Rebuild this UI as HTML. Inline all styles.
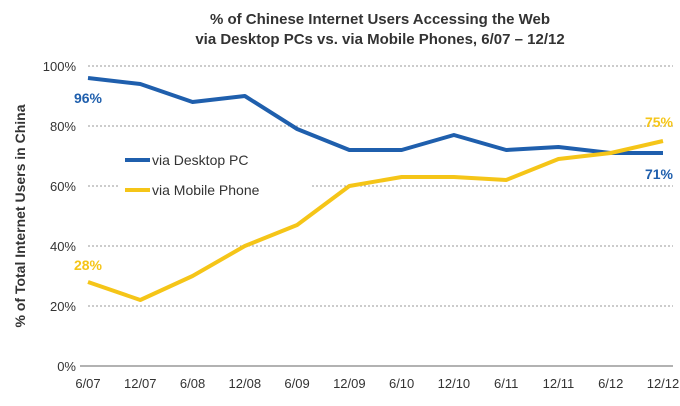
<!DOCTYPE html>
<html><head><meta charset="utf-8"><style>
body{margin:0;background:#fff;font-family:"Liberation Sans",Arial,sans-serif}
svg text{font-family:"Liberation Sans",Arial,sans-serif}
</style></head><body>
<svg id="chart" width="680" height="401" xmlns="http://www.w3.org/2000/svg">
<text x="380" y="24" text-anchor="middle" font-size="15" font-weight="bold" fill="#333">% of Chinese Internet Users Accessing the Web</text>
<text x="380" y="44" text-anchor="middle" font-size="15" font-weight="bold" fill="#333">via Desktop PCs vs. via Mobile Phones, 6/07 – 12/12</text>
<text transform="translate(25,216) rotate(-90)" text-anchor="middle" font-size="14" font-weight="bold" fill="#333">% of Total Internet Users in China</text>
<g id="grid"></g>
<rect x="118" y="145" width="192" height="57" fill="#fff"/>
<g id="axes"></g><g id="series"></g><g id="labels"></g>
<g>
<line x1="125" y1="160" x2="150" y2="160" stroke="#1f5fad" stroke-width="4"/>
<text x="152" y="165" font-size="14" fill="#333">via Desktop PC</text>
<line x1="125" y1="190" x2="150" y2="190" stroke="#f5c518" stroke-width="4"/>
<text x="152" y="195" font-size="14" fill="#333">via Mobile Phone</text>
</g>
</svg>
<script>
const categories=["6/07","12/07","6/08","12/08","6/09","12/09","6/10","12/10","6/11","12/11","6/12","12/12"];
const desktopValues=[96,94,88,90,79,72,72,77,72,73,71,71];
const mobileValues=[28,22,30,40,47,60,63,63,62,69,71,75];
const yTicks=[0,20,40,60,80,100];
const NS="http://www.w3.org/2000/svg";
const x0=88,x1=663,y0=366,y1=66;
const xs=i=>x0+i*(x1-x0)/(categories.length-1);
const ys=v=>y0-(v/100)*(y0-y1);
function mk(t,a,p){const e=document.createElementNS(NS,t);for(const k in a)e.setAttribute(k,a[k]);p.appendChild(e);return e;}
const grid=document.getElementById('grid'),axes=document.getElementById('axes'),ser=document.getElementById('series'),lab=document.getElementById('labels');
yTicks.forEach(v=>{
 if(v>0){const g=mk('line',{x1:x0,x2:x1+10,y1:ys(v),y2:ys(v),stroke:'#999','stroke-dasharray':'2,2'},grid);
 
 }
 const t=mk('text',{x:76,y:ys(v)+5,'text-anchor':'end','font-size':13,fill:'#333'},axes);t.textContent=v+'%';
 
 
});
const ax=mk('line',{x1:x0-8,x2:x1+10,y1:y0,y2:y0,stroke:'#666'},axes);


categories.forEach((c,i)=>{const t=mk('text',{x:xs(i),y:388,'text-anchor':'middle','font-size':13,fill:'#333'},axes);t.textContent=c;
 
 });
function line(vals,col,name){const p=mk('polyline',{points:vals.map((v,i)=>xs(i)+','+ys(v)).join(' '),fill:'none',stroke:col,'stroke-width':4,'stroke-linejoin':'round'},ser);
 
 }
line(desktopValues,'#1f5fad','desktop-line');
line(mobileValues,'#f5c518','mobile-line');
function lbl(x,y,txt,col,name){const t=mk('text',{x:x,y:y,'text-anchor':'middle','font-size':14,'font-weight':'bold',fill:col},lab);t.textContent=txt;
 
 }
const n=categories.length-1;
lbl(xs(0),ys(desktopValues[0])+25,desktopValues[0]+'%','#1f5fad','desktop-start-label');
lbl(xs(0),ys(mobileValues[0])-12,mobileValues[0]+'%','#f5c518','mobile-start-label');
lbl(xs(n)-4,ys(mobileValues[n])-14,mobileValues[n]+'%','#f5c518','mobile-end-label');
lbl(xs(n)-4,ys(desktopValues[n])+26,desktopValues[n]+'%','#1f5fad','desktop-end-label');
</script>
</body></html>
